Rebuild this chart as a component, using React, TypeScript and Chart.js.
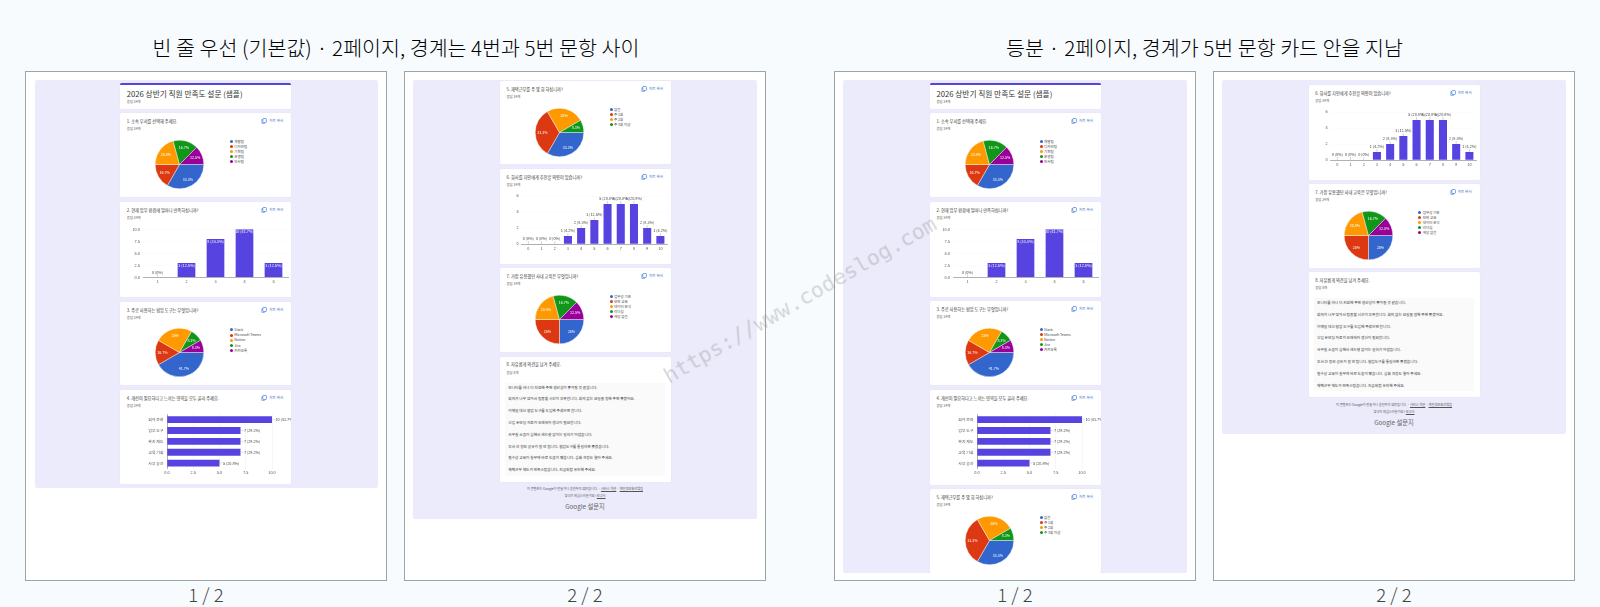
import React, { useEffect, useRef } from "react";
import { Chart, registerables } from "chart.js";

Chart.register(...registerables);

const FONT = '"Noto Sans CJK KR", "Noto Sans", sans-serif';
const PIE_COLORS = ["#3366cc", "#dc3912", "#ff9900", "#109618", "#990099"];
const BAR_COLOR = "#5643e0";

const TITLE_LEFT = "빈 줄 우선 (기본값) · 2페이지, 경계는 4번과 5번 문항 사이";
const TITLE_RIGHT = "등분 · 2페이지, 경계가 5번 문항 카드 안을 지남";
const FORM_TITLE = "2026 상반기 직원 만족도 설문 (샘플)";
const TOTAL_RESPONSES = "응답 24개";
const COPY_LABEL = "차트 복사";
const WATERMARK = "https://www.codeslog.com";

const q1Title = "1. 소속 부서를 선택해 주세요.";
const q1Labels = ["개발팀", "디자인팀", "기획팀", "운영팀", "인사팀"];
const q1Values = [8, 4, 5, 4, 3];

const q2Title = "2. 현재 업무 환경에 얼마나 만족하십니까?";
const q2Labels = ["1", "2", "3", "4", "5"];
const q2Values = [0, 3, 8, 10, 3];
const q2Ticks = [0, 2.5, 5, 7.5, 10];

const q3Title = "3. 주로 사용하는 협업 도구는 무엇입니까?";
const q3Labels = ["Slack", "Microsoft Teams", "Notion", "Jira", "카카오톡"];
const q3Values = [10, 4, 6, 2, 2];

const q4Title = "4. 개선이 필요하다고 느끼는 영역을 모두 골라 주세요.";
const q4Labels = ["회의 문화", "업무 도구", "복지 제도", "교육 기회", "사무 공간"];
const q4Values = [10, 7, 7, 7, 5];
const q4Ticks = [0, 2.5, 5, 7.5, 10];

const q5Title = "5. 재택근무를 주 몇 회 하십니까?";
const q5Labels = ["없음", "주 1회", "주 2회", "주 3회 이상"];
const q5Values = [8, 8, 6, 2];

const q6Title = "6. 회사를 지인에게 추천할 의향이 있습니까?";
const q6Labels = ["0", "1", "2", "3", "4", "5", "6", "7", "8", "9", "10"];
const q6Values = [0, 0, 0, 1, 2, 3, 5, 5, 5, 2, 1];
const q6Ticks = [0, 2, 4, 6];

const q7Title = "7. 가장 유용했던 사내 교육은 무엇입니까?";
const q7Labels = ["업무상 기초", "보안 교육", "데이터 분석", "리더십", "해당 없음"];
const q7Values = [6, 6, 5, 4, 3];

const q8Title = "8. 자유롭게 의견을 남겨 주세요.";
const q8Count = "응답 8개";
const q8Answers = [
  "모니터를 하나 더 지원해 주면 생산성이 좋아질 것 같습니다.",
  "회의가 너무 많아서 집중할 시간이 부족합니다. 회의 없는 요일을 정해 주면 좋겠어요.",
  "이메일 대신 협업 도구를 도입해 주셨으면 합니다.",
  "신입 온보딩 자료가 오래되어 갱신이 필요합니다.",
  "사무실 소음이 심해서 헤드셋 없이는 일하기 어렵습니다.",
  "부서 간 정보 공유가 잘 안 됩니다. 협업도구를 통일하면 좋겠습니다.",
  "필수상 교육이 실무에 바로 도움이 됐습니다. 심화 과정도 열어 주세요.",
  "재택근무 제도가 만족스럽습니다. 지금처럼 유지해 주세요.",
];
const footerLine = "이 콘텐츠는 Google이 만들거나 승인하지 않았습니다. · ";
const footerTerms = "서비스 약관";
const footerPrivacy = "개인정보처리방침";
const footerReport = "양식이 의심스러운가요? ";
const footerReportLink = "보고서";

const pct = (v: number) => {
  const s = ((v / 24) * 100).toFixed(1);
  return (s.endsWith(".0") ? s.slice(0, -2) : s) + "%";
};

function PieChart({ values }: { values: number[] }) {
  const ref = useRef<HTMLCanvasElement>(null);
  useEffect(() => {
    const chart = new Chart(ref.current!, {
      type: "pie",
      data: {
        labels: values.map((_, i) => String(i)),
        datasets: [{ data: values, backgroundColor: PIE_COLORS, borderColor: "#ffffff", borderWidth: 0.4 }],
      },
      options: {
        animation: false,
        responsive: false,
        rotation: 90,
        layout: { padding: 0 },
        plugins: { legend: { display: false }, tooltip: { enabled: false } },
      },
      plugins: [
        {
          id: "pieValues",
          afterDatasetsDraw(c: any) {
            const g = c.ctx;
            g.save();
            g.font = `3.6px ${FONT}`;
            g.fillStyle = "#ffffff";
            g.textAlign = "center";
            g.textBaseline = "middle";
            c.getDatasetMeta(0).data.forEach((arc: any, i: number) => {
              const mid = (arc.startAngle + arc.endAngle) / 2;
              g.fillText(pct(values[i]), arc.x + Math.cos(mid) * arc.outerRadius * 0.7, arc.y + Math.sin(mid) * arc.outerRadius * 0.7);
            });
            g.restore();
          },
        },
      ],
    } as any);
    return () => chart.destroy();
  }, []);
  return <canvas ref={ref} width={49} height={49} style={{ position: "absolute", left: 35, top: 26.5, width: 49, height: 49 }} />;
}

type BarProps = {
  labels: string[];
  values: number[];
  ticks: number[];
  horizontal?: boolean;
  tickFixed?: boolean;
  inside?: boolean;
  plot: { left: number; right: number; top: number; bottom: number };
};

function BarChart({ labels, values, ticks, horizontal, tickFixed, inside, plot }: BarProps) {
  const ref = useRef<HTMLCanvasElement>(null);
  const W = 171;
  const H = 76;
  useEffect(() => {
    const tickFont = { size: 3.9, family: FONT };
    const valueScale: any = {
      min: ticks[0],
      max: ticks[ticks.length - 1],
      afterBuildTicks(s: any) {
        s.ticks = ticks.map((v) => ({ value: v }));
      },
      ticks: {
        font: tickFont,
        color: "#555",
        padding: horizontal ? 2 : 3,
        maxRotation: 0,
        autoSkip: false,
        callback: (v: number) => (tickFixed ? v.toFixed(1) : String(v)),
      },
      grid: { color: horizontal ? "#ececec" : "#f6f6f6", lineWidth: 0.5, drawTicks: false, tickLength: 0 },
      border: { display: false },
    };
    const catScale: any = {
      ticks: { font: tickFont, color: "#555", padding: horizontal ? 3.5 : 2, maxRotation: 0, autoSkip: false },
      grid: { display: false, drawTicks: false, tickLength: 0 },
      border: { color: "#8f8f96", width: 0.7 },
    };
    const xScale = horizontal ? valueScale : catScale;
    const yScale = horizontal ? catScale : valueScale;
    xScale.afterFit = (s: any) => {
      s.height = H - plot.bottom;
    };
    yScale.afterFit = (s: any) => {
      s.width = plot.left;
    };
    const chart = new Chart(ref.current!, {
      type: "bar",
      data: {
        labels,
        datasets: [{ data: values, backgroundColor: BAR_COLOR, barPercentage: horizontal ? 0.63 : 0.61, categoryPercentage: 1 }],
      },
      options: {
        animation: false,
        responsive: false,
        indexAxis: horizontal ? "y" : "x",
        layout: { padding: { left: 0, top: plot.top, right: W - plot.right, bottom: 0 } },
        scales: { x: xScale, y: yScale },
        plugins: { legend: { display: false }, tooltip: { enabled: false } },
      },
      plugins: [
        {
          id: "barValues",
          afterDatasetsDraw(c: any) {
            const g = c.ctx;
            g.save();
            g.font = `3.8px ${FONT}`;
            g.textBaseline = "middle";
            c.getDatasetMeta(0).data.forEach((bar: any, i: number) => {
              const text = `${values[i]} (${pct(values[i])})`;
              g.strokeStyle = "#9a9a9a";
              g.lineWidth = 0.4;
              if (horizontal) {
                g.beginPath();
                g.moveTo(bar.x + 0.8, bar.y);
                g.lineTo(bar.x + 2.8, bar.y);
                g.stroke();
                g.textAlign = "left";
                g.fillStyle = "#444";
                g.fillText(text, bar.x + 3.5, bar.y);
              } else if (inside && values[i] > 0) {
                g.textAlign = "center";
                g.fillStyle = "#ffffff";
                g.fillText(text, bar.x, bar.y + 2.4);
              } else {
                g.beginPath();
                g.moveTo(bar.x, bar.y);
                g.lineTo(bar.x, bar.y - 3);
                g.stroke();
                g.textAlign = "center";
                g.fillStyle = "#444";
                g.fillText(text, bar.x, bar.y - 5);
              }
            });
            g.restore();
          },
        },
      ],
    } as any);
    return () => chart.destroy();
  }, []);
  return <canvas ref={ref} width={W} height={H} style={{ position: "absolute", left: 0, top: 18, width: W, height: H }} />;
}

const small = (fontSize: number, color: string, extra: React.CSSProperties = {}): React.CSSProperties => ({
  position: "absolute",
  fontSize,
  color,
  lineHeight: 1,
  whiteSpace: "nowrap",
  fontFamily: FONT,
  ...extra,
});

function Card({ x, y, h, children }: { x: number; y: number; h: number; children?: React.ReactNode }) {
  return (
    <div style={{ position: "absolute", left: x, top: y, width: 171, height: h, background: "#fff", borderRadius: 1.5, boxShadow: "0 0 1px rgba(90,80,180,.12)" }}>
      {children}
    </div>
  );
}

function Question({ title, copy = true, count = TOTAL_RESPONSES }: { title: string; copy?: boolean; count?: string }) {
  return (
    <>
      <div style={small(4.2, "#333", { left: 6.5, top: 5.9 })}>{title}</div>
      <div style={small(3.4, "#555", { left: 6.5, top: 14 })}>{count}</div>
      {copy && (
        <>
          <svg width="6" height="6" viewBox="0 0 6 6" style={{ position: "absolute", left: 141, top: 5 }}>
            <rect x="1.8" y="0.5" width="3.6" height="4" rx="0.8" fill="none" stroke="#3b78d8" strokeWidth="0.7" />
            <path d="M1.8 1.6 H0.9 V5.4 H3.8" fill="none" stroke="#3b78d8" strokeWidth="0.6" />
          </svg>
          <div style={small(3.6, "#4a78c8", { left: 149, top: 6.2 })}>{COPY_LABEL}</div>
        </>
      )}
    </>
  );
}

function Legend({ labels }: { labels: string[] }) {
  return (
    <>
      {labels.map((t, i) => (
        <React.Fragment key={t}>
          <div style={{ position: "absolute", left: 109.8, top: 26.8 + i * 5.1, width: 3, height: 3, borderRadius: 2, background: PIE_COLORS[i] }} />
          <div style={small(3.5, "#444", { left: 114, top: 26.6 + i * 5.1 })}>{t}</div>
        </React.Fragment>
      ))}
    </>
  );
}

function PieCard({ x, y, h, title, labels, values }: { x: number; y: number; h: number; title: string; labels: string[]; values: number[] }) {
  return (
    <Card x={x} y={y} h={h}>
      <Question title={title} />
      <PieChart values={values} />
      <Legend labels={labels} />
    </Card>
  );
}

function HeaderCard({ x, y }: { x: number; y: number }) {
  return (
    <Card x={x} y={y} h={26}>
      <div style={{ position: "absolute", left: 0, top: 0, width: 171, height: 2.6, background: "#5643e0", borderRadius: "1.5px 1.5px 0 0" }} />
      <div style={small(7.7, "#333", { left: 6.5, top: 7.5 })}>{FORM_TITLE}</div>
      <div style={small(3.4, "#555", { left: 6.5, top: 17.8 })}>{TOTAL_RESPONSES}</div>
    </Card>
  );
}

const Q2 = ({ x, y, h }: { x: number; y: number; h: number }) => (
  <Card x={x} y={y} h={h}>
    <Question title={q2Title} />
    <BarChart labels={q2Labels} values={q2Values} ticks={q2Ticks} tickFixed inside plot={{ left: 23, right: 168, top: 9.3, bottom: 57.3 }} />
  </Card>
);
const Q4 = ({ x, y, h }: { x: number; y: number; h: number }) => (
  <Card x={x} y={y} h={h}>
    <Question title={q4Title} />
    <BarChart labels={q4Labels} values={q4Values} ticks={q4Ticks} tickFixed horizontal plot={{ left: 47, right: 152, top: 6.2, bottom: 60.5 }} />
  </Card>
);
const Q6 = ({ x, y, h }: { x: number; y: number; h: number }) => (
  <Card x={x} y={y} h={h}>
    <Question title={q6Title} />
    <BarChart labels={q6Labels} values={q6Values} ticks={q6Ticks} plot={{ left: 21.7, right: 167, top: 9, bottom: 57 }} />
  </Card>
);

function Q8({ x, y }: { x: number; y: number }) {
  return (
    <Card x={x} y={y} h={125.4}>
      <Question title={q8Title} copy={false} count={q8Count} />
      <div style={{ position: "absolute", left: 5, top: 26, width: 160, height: 93, background: "#fafafa" }} />
      {q8Answers.map((t, i) => (
        <div key={i} style={small(3.7, "#333", { left: 8.3, top: 29 + i * 11.8 })}>{t}</div>
      ))}
    </Card>
  );
}

function Footer({ cx, y }: { cx: number; y: number }) {
  const center = (top: number): React.CSSProperties => ({ left: cx - 85, width: 170, top, textAlign: "center" });
  return (
    <>
      <div style={small(3.2, "#555", center(y + 5))}>
        {footerLine}
        <u>{footerTerms}</u> · <u>{footerPrivacy}</u>
      </div>
      <div style={small(3.2, "#555", center(y + 12.4))}>
        {footerReport}
        <u>{footerReportLink}</u>
      </div>
      <div style={small(6.3, "#666", center(y + 22.4))}>Google 설문지</div>
    </>
  );
}

function Frame({ x, w, pageX, pageW, pageBottom, label, children }: { x: number; w: number; pageX: number; pageW: number; pageBottom: number; label: string; children: React.ReactNode }) {
  const top = 70.5;
  const height = 510.5;
  const pageTop = 80;
  return (
    <>
      <div style={{ position: "absolute", left: x, top, width: w, height, boxSizing: "border-box", background: "#fff", border: "1.5px solid #9aa5a8" }} />
      <div style={{ position: "absolute", left: pageX, top: pageTop, width: pageW, height: pageBottom - pageTop, background: "#ecebfb", borderRadius: 2, overflow: "hidden" }}>
        <div style={{ position: "absolute", left: -pageX, top: -pageTop, width: 1600, height: 607 }}>{children}</div>
      </div>
      <div style={small(18.5, "#444", { left: x, width: w, top: 584.5, textAlign: "center", fontWeight: 300 })}>{label}</div>
    </>
  );
}

export default function App() {
  useEffect(() => {
    document.body.style.margin = "0";
  }, []);
  return (
    <div style={{ position: "fixed", left: 0, top: 0, width: 1600, height: 607, overflow: "hidden", background: "#f8fbfe", fontFamily: FONT, filter: "blur(0.3px)" }}>
      <div style={small(20.6, "#000", { left: 25.5, width: 741, top: 36.5, textAlign: "center", fontWeight: 300 })}>{TITLE_LEFT}</div>
      <div style={small(20.6, "#000", { left: 834, width: 741, top: 36.5, textAlign: "center", fontWeight: 300 })}>{TITLE_RIGHT}</div>

      <Frame x={25} w={362} pageX={34.7} pageW={343.3} pageBottom={487.7} label="1 / 2">
        <HeaderCard x={120.3} y={82.7} />
        <PieCard x={120.3} y={113.3} h={84} title={q1Title} labels={q1Labels} values={q1Values} />
        <Q2 x={120.3} y={201.7} h={95} />
        <PieCard x={120.3} y={301.7} h={83.3} title={q3Title} labels={q3Labels} values={q3Values} />
        <Q4 x={120.3} y={390} h={94.3} />
      </Frame>

      <Frame x={404} w={362} pageX={413.3} pageW={343.4} pageBottom={518.7} label="2 / 2">
        <PieCard x={500} y={81} h={82.7} title={q5Title} labels={q5Labels} values={q5Values} />
        <Q6 x={500} y={169} h={95.3} />
        <PieCard x={500} y={268} h={84.3} title={q7Title} labels={q7Labels} values={q7Values} />
        <Q8 x={500} y={356.5} />
        <Footer cx={585} y={481.9} />
      </Frame>

      <Frame x={834} w={362} pageX={843.3} pageW={343.4} pageBottom={572.7} label="1 / 2">
        <HeaderCard x={930} y={82.7} />
        <PieCard x={930} y={113.3} h={84} title={q1Title} labels={q1Labels} values={q1Values} />
        <Q2 x={930} y={201.7} h={95.3} />
        <PieCard x={930} y={301} h={84.3} title={q3Title} labels={q3Labels} values={q3Values} />
        <Q4 x={930} y={390} h={95} />
        <PieCard x={930} y={489.3} h={84} title={q5Title} labels={q5Labels} values={q5Values} />
      </Frame>

      <Frame x={1213} w={362} pageX={1222} pageW={343.7} pageBottom={434.3} label="2 / 2">
        <Q6 x={1308.7} y={85} h={95} />
        <PieCard x={1308.7} y={184} h={84} title={q7Title} labels={q7Labels} values={q7Values} />
        <Q8 x={1308.7} y={272} />
        <Footer cx={1394} y={397.7} />
      </Frame>

      <div
        style={small(21.5, "rgba(130,130,130,.32)", {
          left: 800,
          top: 300,
          fontFamily: '"DejaVu Sans Mono", monospace',
          transform: "translate(-50%,-50%) rotate(-30deg)",
          pointerEvents: "none",
        })}
      >
        {WATERMARK}
      </div>
    </div>
  );
}
